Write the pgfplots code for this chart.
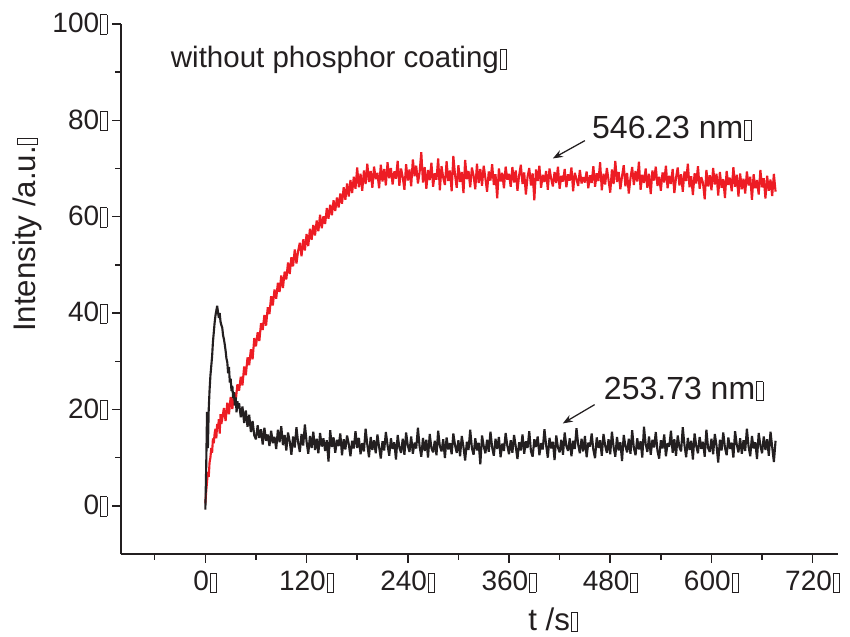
\documentclass[border=0pt]{standalone}
\usepackage{fontspec}
\setmainfont{Liberation Sans}
\usepackage{pgfplots}
\pgfplotsset{compat=1.18}
\usetikzlibrary{arrows.meta}
\definecolor{ored}{RGB}{237,28,36}
\definecolor{oblack}{RGB}{35,31,32}
% the empty box that follows every label in the original
\newcommand\bx{\kern0.4pt\raisebox{-0.4pt}{\setlength{\fboxsep}{0pt}\setlength{\fboxrule}{0.35pt}\fbox{\rule{0pt}{7.4pt}\hspace{2.2pt}}}}

\pgfplotstableread{
t y
0 0.5
1 3
2 5
3 7
4 6
5 9
6 10
7 12
8 11
9 14
10 13
11 15
12 16
13 14
14 17
15 16
16 18
17 15
18 19
19 17
20 18
22 20.3
24 17.6
26 21.4
28 19.0
30 22.6
32 20.1
34 23.5
36 21.8
38 25.2
40 23.9
42 26.8
44 25.0
46 28.9
48 27.1
50 30.8
52 29.2
54 32.5
56 30.4
58 34.8
60 33.1
62 36.0
64 34.2
66 37.9
68 36.5
70 39.6
72 37.4
74 41.2
76 39.8
78 43.5
80 41.6
82 44.9
84 43.0
86 46.3
88 44.4
90 47.8
92 45.2
94 48.6
96 47.0
98 50.5
100 48.1
102 51.6
104 49.7
106 53.2
108 50.3
110 52.9
112 54.6
114 51.8
116 55.3
118 53.0
120 56.4
122 53.9
124 57.5
126 55.2
128 58.3
130 56.1
132 59.2
134 57.0
136 60.4
138 57.6
140 60.1
142 58.5
144 61.8
146 59.6
148 62.5
150 60.3
152 63.4
154 61.2
156 64.0
158 61.9
160 64.8
162 62.7
164 66.1
166 63.5
168 66.9
170 64.2
172 67.6
174 64.9
176 68.3
178 65.8
180 70.2
182 66.1
184 68.9
186 65.4
188 69.6
190 66.8
192 71.0
194 67.2
196 69.5
198 66.0
200 70.4
202 67.8
204 69.1
206 65.9
208 70.8
210 67.3
212 69.9
214 66.5
216 71.3
218 68.0
220 70.1
222 66.7
224 69.4
226 67.9
228 71.6
230 66.4
232 70.0
234 68.2
236 65.6
238 70.9
240 67.5
242 69.8
244 66.3
246 71.9
248 68.4
250 70.6
252 66.9
254 69.2
256 73.4
258 67.1
260 70.3
262 65.8
264 69.7
266 67.6
268 71.2
270 66.2
272 69.0
274 67.7
276 72.1
278 65.5
280 70.5
282 68.1
284 66.6
286 71.5
288 67.4
290 69.6
292 65.3
294 72.6
296 68.7
298 66.0
300 70.7
302 67.2
304 69.3
306 64.9
308 71.8
310 67.8
312 69.5
314 66.1
316 70.2
318 68.5
320 65.7
322 71.0
324 67.0
326 69.9
328 66.4
330 70.6
332 68.0
334 65.2
336 69.4
338 67.5
340 70.9
342 66.6
344 68.8
346 63.8
348 70.0
350 67.3
352 69.1
354 65.9
356 70.4
358 67.7
360 68.9
362 66.2
364 70.3
366 67.1
368 69.6
370 65.4
372 68.6
374 70.8
376 66.8
378 69.2
380 64.6
382 68.3
384 70.1
386 66.5
388 69.0
390 63.4
392 69.8
394 67.4
396 70.6
398 66.0
400 68.7
402 67.2
404 69.5
406 65.6
408 70.0
410 67.9
412 66.3
414 69.3
416 67.0
418 70.4
420 65.8
422 68.5
424 67.3
426 69.9
428 66.1
430 68.8
432 67.5
434 70.2
436 65.3
438 69.1
440 67.8
442 66.4
444 69.7
446 66.9
448 68.2
450 67.1
452 69.4
454 65.9
456 68.6
458 67.0
460 70.5
462 66.2
464 69.0
466 67.4
468 71.3
470 65.5
472 68.9
474 66.7
476 70.1
478 67.6
480 65.0
482 69.8
484 66.8
486 71.6
488 67.2
490 69.3
492 65.7
494 68.4
496 70.7
498 66.3
500 69.1
502 64.8
504 68.0
506 70.3
508 66.6
510 69.5
512 67.3
514 71.4
516 65.6
518 68.7
520 67.0
522 70.0
524 66.0
526 68.9
528 64.7
530 69.6
532 67.5
534 70.4
536 66.4
538 68.3
540 65.4
542 69.2
544 67.1
546 70.6
548 65.9
550 68.5
552 66.8
554 69.9
556 64.9
558 68.1
560 70.2
562 66.5
564 68.8
566 65.2
568 69.4
570 67.4
572 71.0
574 66.1
576 68.4
578 64.5
580 69.0
582 66.9
584 70.5
586 65.8
588 68.2
590 67.0
592 63.6
594 69.7
596 66.3
598 68.6
600 65.5
602 70.1
604 66.7
606 68.9
608 64.4
610 69.3
612 66.0
614 67.8
616 63.9
618 69.5
620 66.6
622 68.1
624 65.3
626 70.3
628 66.2
630 68.7
632 64.2
634 69.0
636 65.7
638 67.9
640 64.8
642 69.4
644 66.5
646 68.3
648 63.5
650 68.8
652 65.9
654 67.6
656 64.6
658 69.7
660 66.1
662 68.0
664 63.8
666 68.5
668 65.4
670 67.7
672 64.3
674 68.9
676 65.2
}\greenline

\pgfplotstableread{
t y
0 -0.8
1 8
2 19.5
3 12
4 20
5 24
6 27
7 29
8 31
9 34
10 36
11 38
12 39.5
13 40.5
14 41.5
15 40.2
16 39.0
17 40.0
18 38.2
19 37.5
20 37.0
21 35.4
22 34.6
23 33.5
24 32.2
25 30.6
26 29.8
27 27.5
28 28.8
29 25.6
30 26.4
31 23.8
32 24.9
33 22.3
34 23.6
35 20.8
36 22.5
37 19.4
38 21.7
39 20.2
40 21.3
42 18.4
44 20.6
46 17.2
48 19.8
50 16.4
52 18.9
54 15.3
56 17.6
58 14.6
60 13.8
62 16.7
64 14.1
66 15.9
68 12.7
70 16.2
72 13.5
74 14.8
76 12.4
78 15.6
80 13.0
82 14.3
84 11.8
86 15.8
88 13.2
90 16.5
92 12.6
94 14.7
96 11.5
98 15.2
100 13.4
102 10.6
104 14.4
106 12.1
108 16.3
110 13.1
112 11.2
114 14.9
116 12.5
118 16.9
120 13.3
122 10.8
124 14.5
126 12.0
128 15.4
130 11.6
132 13.9
134 10.9
136 15.1
138 12.3
140 14.0
142 11.4
144 13.6
146 9.2
148 15.7
150 12.2
152 14.2
154 11.0
156 13.7
158 12.4
160 15.0
162 10.5
164 13.8
166 11.7
168 14.6
170 12.8
172 10.3
174 13.5
176 11.9
178 15.5
180 12.0
182 14.1
184 10.7
186 13.0
188 11.3
190 16.0
192 12.7
194 10.1
196 14.3
198 11.6
200 13.6
202 10.9
204 14.8
206 12.2
208 9.8
210 13.4
212 11.5
214 15.3
216 12.6
218 10.4
220 14.0
222 11.8
224 13.2
226 9.6
228 14.7
230 12.1
232 11.0
234 13.9
236 10.6
238 15.2
240 12.5
242 11.2
244 14.4
246 10.8
248 13.1
250 11.9
252 16.2
254 12.3
256 10.2
258 14.1
260 11.4
262 13.7
264 10.0
266 14.9
268 12.0
270 11.1
272 13.5
274 10.5
276 15.6
278 12.4
280 11.3
282 13.8
284 9.9
286 14.2
288 11.7
290 13.0
292 10.7
294 15.0
296 12.6
298 11.0
300 13.6
302 10.3
304 14.5
306 12.2
308 9.4
310 13.3
312 11.6
314 15.8
316 12.0
318 10.6
320 14.0
322 11.5
324 13.1
326 8.6
328 14.6
330 12.4
332 10.9
334 13.7
336 11.2
338 15.4
340 12.1
342 10.4
344 13.9
346 11.8
348 14.3
350 10.1
352 12.9
354 11.4
356 15.1
358 12.5
360 10.7
362 13.6
364 11.0
366 14.7
368 12.3
370 9.7
372 13.2
374 11.5
376 14.8
378 10.8
380 13.4
382 12.0
384 15.5
386 11.3
388 10.2
390 13.8
392 12.2
394 14.4
396 10.5
398 13.0
400 11.7
402 15.9
404 12.6
406 10.0
408 14.1
410 11.9
412 13.3
414 9.5
416 14.6
418 12.1
420 11.1
422 13.7
424 10.6
426 15.2
428 12.4
430 11.4
432 14.0
434 10.3
436 13.5
438 11.8
440 16.1
442 12.7
444 10.9
446 13.9
448 11.3
450 14.5
452 10.1
454 13.1
456 12.3
458 15.0
460 11.6
462 9.9
464 14.2
466 12.0
468 13.6
470 10.4
472 14.9
474 12.5
476 11.0
478 13.8
480 10.7
482 15.4
484 12.2
486 10.2
488 14.3
490 11.5
492 13.2
494 9.3
496 14.7
498 12.4
500 11.1
502 13.9
504 10.8
506 15.7
508 12.0
510 10.5
512 14.0
514 11.7
516 13.4
518 10.0
520 16.4
522 12.8
524 11.2
526 14.4
528 10.6
530 13.7
532 12.1
534 15.3
536 11.4
538 9.8
540 13.6
542 11.9
544 14.8
546 10.3
548 13.0
550 12.3
552 15.6
554 11.0
556 13.8
558 10.4
560 14.6
562 12.2
564 11.3
566 16.3
568 12.6
570 10.1
572 14.1
574 11.6
576 13.5
578 9.6
580 15.0
582 12.4
584 10.9
586 14.3
588 11.8
590 13.3
592 10.2
594 15.8
596 12.0
598 11.2
600 13.9
602 10.7
604 14.9
606 12.5
608 9.0
610 13.7
612 11.5
614 15.2
616 12.1
618 10.5
620 14.2
622 11.8
624 13.1
626 10.0
628 15.5
630 12.7
632 11.1
634 14.0
636 10.8
638 13.6
640 11.4
642 16.0
644 12.3
646 10.3
648 14.5
650 11.9
652 13.2
654 9.7
656 15.1
658 12.5
660 10.9
662 14.4
664 11.6
666 13.8
668 10.4
670 15.4
672 12.2
674 9.1
676 13.5
}\uvline

\begin{document}
\begin{tikzpicture}
\useasboundingbox (-48.4pt,-32.8pt) rectangle (291.6pt,221.6pt);
\begin{axis}[
    at={(0,0)}, anchor=south west,
    scale only axis, width=286.8pt, height=212pt,
    xmin=-100, xmax=750, ymin=-10, ymax=100,
    axis x line=bottom, axis y line=left,
    axis line style={-, line width=0.8pt, oblack},
    tick align=outside,
    major tick length=3.4pt, minor tick length=2.2pt,
    every tick/.style={line width=0.6pt, oblack},
    xtick={0,120,240,360,480,600,720},
    xticklabels={0\bx,120\bx,240\bx,360\bx,480\bx,600\bx,720\bx},
    minor xtick={-60,60,180,300,420,540,660},
    ytick={0,20,40,60,80,100},
    yticklabels={0\bx,20\bx,40\bx,60\bx,80\bx,100\bx},
    minor ytick={10,30,50,70,90},
    tick label style={font=\fontsize{11.2}{13}\selectfont, text=oblack},
    yticklabel style={xshift=1.5pt},
    xlabel={t /s\bx}, ylabel={Intensity /a.u.\bx},
    label style={font=\fontsize{12.5}{14}\selectfont, text=oblack},
    xlabel style={at={(axis description cs:0.603,-0.124)}, anchor=center},
    ylabel style={at={(axis description cs:-0.13,0.602)}, anchor=center, rotate=0},
  ]
  \addplot[ored, line width=0.85pt, line join=bevel] table[x=t, y=y] {\greenline};
  \addplot[oblack, line width=0.85pt, line join=bevel] table[x=t, y=y] {\uvline};

  \node[anchor=west, font=\fontsize{11.8}{14}\selectfont, text=oblack, inner sep=0pt]
    at (axis cs:-41.4,92.5) {without phosphor coating\bx};
  \node[anchor=west, font=\fontsize{12.8}{15}\selectfont, text=oblack, inner sep=0pt]
    at (axis cs:458,78.3) {546.23 nm\bx};
  \node[anchor=west, font=\fontsize{12.8}{15}\selectfont, text=oblack, inner sep=0pt]
    at (axis cs:472,24.2) {253.73 nm\bx};
  \draw[oblack, line width=0.5pt, -{Stealth[length=4pt, width=3pt]}]
    (axis cs:450,75.8) -- (axis cs:412,72.1);
  \draw[oblack, line width=0.5pt, -{Stealth[length=4pt, width=3pt]}]
    (axis cs:461.5,21) -- (axis cs:423.7,17.1);
\end{axis}
\end{tikzpicture}
\end{document}
